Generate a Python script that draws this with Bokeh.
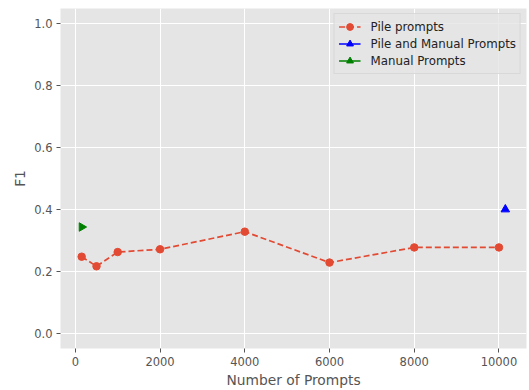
from bokeh.plotting import figure
from bokeh.models import Range1d, Legend, LegendItem, FixedTicker, ColumnDataSource, CustomJSTickFormatter
from bokeh.embed import file_html
from bokeh.resources import INLINE

# Pile prompt counts and their F1 scores
pile_n = [150, 500, 1000, 2000, 4000, 6000, 8000, 10000]
pile_f1 = [0.247, 0.216, 0.262, 0.271, 0.328, 0.228, 0.277, 0.277]

# Combined pile + manual prompts
combo_n = [10150]
combo_f1 = [0.400]

# Manual prompts only
manual_n = [150]
manual_f1 = [0.343]

x_ticks = [0, 2000, 4000, 6000, 8000, 10000]
y_ticks = [0.0, 0.2, 0.4, 0.6, 0.8, 1.0]

FONT = "DejaVu Sans"
TICK_COLOR = "#555555"

p = figure(width=529, height=390, output_backend="svg", toolbar_location=None,
           x_range=Range1d(-350, 10650), y_range=Range1d(-0.05, 1.05),
           min_border_left=60, min_border_right=3, min_border_top=8, min_border_bottom=39)

p.background_fill_color = "#E5E5E5"
p.border_fill_color = "white"
p.outline_line_color = None

for ax in (p.xaxis[0], p.yaxis[0]):
    ax.axis_line_color = None
    ax.major_tick_line_color = TICK_COLOR
    ax.major_tick_out = 4
    ax.major_tick_in = 0
    ax.minor_tick_line_color = None
    ax.major_label_text_font = FONT
    ax.major_label_text_font_size = "11.5px"
    ax.major_label_text_color = TICK_COLOR
    ax.axis_label_text_font = FONT
    ax.axis_label_text_font_size = "13.8px"
    ax.axis_label_text_font_style = "normal"
    ax.axis_label_text_color = TICK_COLOR

p.xaxis.ticker = FixedTicker(ticks=x_ticks)
p.yaxis.ticker = FixedTicker(ticks=y_ticks)
p.yaxis.formatter = CustomJSTickFormatter(code="return tick.toFixed(1);")
p.xaxis.axis_label = "Number of Prompts"
p.yaxis.axis_label = "F1"
p.xaxis.major_label_standoff = 4
p.yaxis.major_label_standoff = 4
p.xaxis.axis_label_standoff = 3
p.yaxis.axis_label_standoff = 3

p.grid.grid_line_color = "white"
p.grid.grid_line_width = 1
p.xgrid.ticker = FixedTicker(ticks=x_ticks)
p.ygrid.ticker = FixedTicker(ticks=y_ticks)

RED = "#E24A33"
l1 = p.line(pile_n, pile_f1, line_color=RED, line_width=1.7, line_dash="6 3")
m1 = p.scatter(pile_n, pile_f1, marker="circle", size=7.5, fill_color=RED, line_color=RED)

l2 = p.line(combo_n, combo_f1, line_color="blue", line_width=1.7)
m2 = p.scatter(combo_n, combo_f1, marker="triangle", size=8.5, fill_color="blue", line_color="blue")

# right-pointing triangle for the manual prompt point
manual_src = ColumnDataSource(data=dict(x=manual_n, y=manual_f1, ang=[-1.5708] * len(manual_n)))
l3 = p.line(manual_n, manual_f1, line_color="green", line_width=1.7)
m3 = p.scatter("x", "y", source=manual_src, marker="triangle", angle="ang", size=8.5,
               fill_color="green", line_color="green")

legend = Legend(items=[
    LegendItem(label="Pile prompts", renderers=[l1, m1]),
    LegendItem(label="Pile and Manual Prompts", renderers=[l2, m2]),
    LegendItem(label="Manual Prompts", renderers=[l3, m3], index=0),
], location="top_right")
legend.margin = 5
legend.padding = 4
legend.spacing = 0
legend.glyph_width = 22
legend.glyph_height = 17
legend.label_height = 17
legend.label_standoff = 10
legend.label_text_font = FONT
legend.label_text_font_size = "11.8px"
legend.label_text_color = "#222222"
legend.background_fill_color = "#E5E5E5"
legend.background_fill_alpha = 0.8
legend.border_line_color = "#CCCCCC"
legend.border_line_width = 1
p.add_layout(legend)

open("out.html", "w").write(file_html(p, INLINE))
